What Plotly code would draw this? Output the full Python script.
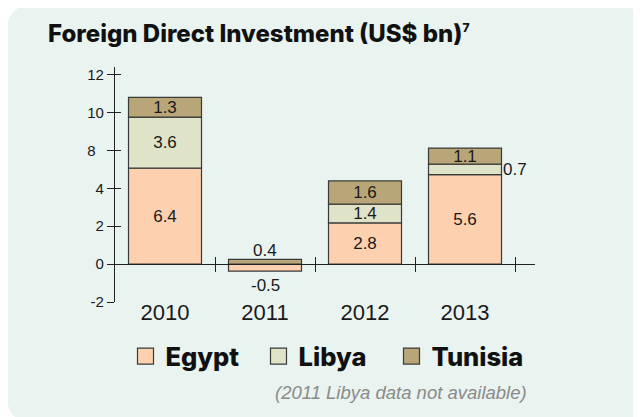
import plotly.graph_objects as go

# Values as printed on the chart, and bar heights as drawn on its y axis
years = ["2010", "2011", "2012", "2013"]
egypt_labels = ["6.4", "-0.5", "2.8", "5.6"]
libya_labels = ["3.6", "", "1.4", "0.7"]
tunisia_labels = ["1.3", "0.4", "1.6", "1.1"]
egypt_h = [5.06, -0.37, 2.17, 4.72]
libya_h = [2.70, None, 0.99, 0.55]
tunisia_h = [1.04, 0.25, 1.23, 0.85]
y_ticks = [-2, 0, 2, 4, 6, 8, 10]
y_tick_text = ["-2", "0", "2", "4", "8\u00a0\u00a0", "10", "12"]
x_dividers = [0.5, 1.5, 2.5, 3.5]

colors = {"Egypt": "#fdd0b0", "Libya": "#dfe3c8", "Tunisia": "#b8a678"}
OUTLINE = "#3a3a3a"
FONT = "Liberation Sans"
HEAVY = "Inter"

# the page body adds an 8px margin, so the figure is 8px smaller than the window
W, H = 633, 409
L, T = 107, 59
PW, PH = 420, 235
R, B = W - L - PW, H - T - PH


def px(x):
    return (x - L) / PW


def py(y):
    return (T + PH - y) / PH


def rounded_rect(x0, y0, x1, y1, r):
    return (
        f"M{px(x0 + r)},{py(y0)} L{px(x1 - r)},{py(y0)} Q{px(x1)},{py(y0)} {px(x1)},{py(y0 + r)} "
        f"L{px(x1)},{py(y1 - r)} Q{px(x1)},{py(y1)} {px(x1 - r)},{py(y1)} "
        f"L{px(x0 + r)},{py(y1)} Q{px(x0)},{py(y1)} {px(x0)},{py(y1 - r)} "
        f"L{px(x0)},{py(y0 + r)} Q{px(x0)},{py(y0)} {px(x0 + r)},{py(y0)} Z"
    )


fig = go.Figure()

series = [
    ("Egypt", egypt_h, egypt_labels),
    ("Libya", libya_h, libya_labels),
    ("Tunisia", tunisia_h, tunisia_labels),
]
# small segments get their labels as annotations instead
hidden = {("Egypt", 1), ("Tunisia", 1), ("Libya", 3)}

for name, h, labels in series:
    pos = ["none" if (name, i) in hidden or not labels[i] else "inside" for i in range(len(years))]
    fig.add_trace(go.Bar(
        x=years, y=h, name=name, text=labels, textposition=pos,
        insidetextanchor="middle",
        textfont=dict(size=17, color="#1a1a1a", family=FONT),
        marker=dict(color=colors[name], line=dict(color=OUTLINE, width=1.2)),
        showlegend=False,
    ))
    # legend proxy with a bigger square swatch
    fig.add_trace(go.Scatter(
        x=[None], y=[None], mode="markers", name=name,
        marker=dict(symbol="square", size=16, color=colors[name], line=dict(color=OUTLINE, width=1.2)),
    ))

# helper traces so the overlay axes get drawn
fig.add_trace(go.Scatter(x=[None], y=[None], xaxis="x2", yaxis="y2", showlegend=False, hoverinfo="skip"))
fig.add_trace(go.Scatter(x=[None], y=[None], xaxis="x3", yaxis="y2", showlegend=False, hoverinfo="skip"))

lab_font = dict(size=17, color="#1a1a1a", family=FONT)
fig.add_annotation(x=1, y=tunisia_h[1], text=tunisia_labels[1], showarrow=False,
                   yanchor="bottom", yshift=-3, font=lab_font)
fig.add_annotation(x=1, y=egypt_h[1], text=egypt_labels[1], showarrow=False,
                   yanchor="top", yshift=-3, font=lab_font)
fig.add_annotation(x=3, y=egypt_h[3] + libya_h[3] / 2, text=libya_labels[3], showarrow=False,
                   xanchor="left", xshift=36, font=lab_font)
fig.add_annotation(x=0.985, y=-0.385, xref="paper", yref="paper", xanchor="right", yanchor="middle",
                   text="<i>(2011 Libya data not available)</i>", showarrow=False,
                   font=dict(size=18.5, color="#8a8a8a", family=FONT))

fig.add_shape(type="path", path=rounded_rect(-1, -3, 634, 414, 26), xref="paper", yref="paper",
              fillcolor="#e9f3f0", line_width=0, layer="below")

x_range = [-0.5, 3.7]
y_range = [-2, 10.4]
zero_pos = (0 - y_range[0]) / (y_range[1] - y_range[0])

fig.update_layout(
    width=W, height=H,
    margin=dict(l=L, r=R, t=T, b=B),
    barmode="relative",
    bargap=0.27,
    paper_bgcolor="white",
    plot_bgcolor="rgba(0,0,0,0)",
    font=dict(family=FONT, color="#1a1a1a"),
    uniformtext=dict(minsize=17, mode="show"),
    title=dict(
        text="Foreign Direct Investment (US$ bn)<sup><span style='font-size:12px'>7</span></sup>",
        x=40 / W, xref="container", xanchor="left",
        y=1 - 26 / H, yref="container", yanchor="middle",
        font=dict(size=24, color="#111", family=HEAVY, weight=800),
    ),
    xaxis=dict(type="category", range=x_range, showline=False, ticks="", showgrid=False,
               zeroline=False, ticklabelstandoff=-5, tickfont=dict(size=22, color="#1a1a1a")),
    xaxis2=dict(overlaying="x", anchor="free", position=zero_pos, range=x_range,
                tickvals=x_dividers, ticks="outside", ticklen=7, tickcolor="#222",
                showline=True, linecolor="#222", linewidth=1.2,
                showticklabels=False, showgrid=False, zeroline=False),
    xaxis3=dict(overlaying="x", anchor="free", position=zero_pos, range=x_range,
                tickvals=x_dividers, ticks="inside", ticklen=7, tickcolor="#222",
                showline=False, showticklabels=False, showgrid=False, zeroline=False),
    yaxis=dict(range=y_range, tickvals=y_ticks, ticktext=y_tick_text,
               ticks="outside", ticklen=7, tickcolor="#222", showline=True,
               linecolor="#222", linewidth=1.2, showgrid=False, zeroline=False,
               tickfont=dict(size=15, color="#1a1a1a")),
    yaxis2=dict(overlaying="y", anchor="x", side="left", range=y_range, tickvals=y_ticks,
                ticks="inside", ticklen=6, tickcolor="#222", showline=False,
                showticklabels=False, showgrid=False, zeroline=False),
    legend=dict(orientation="h", x=0.5, xanchor="center", y=-0.232, yanchor="middle",
                font=dict(size=25.5, weight=800, color="#111", family=HEAVY),
                bgcolor="rgba(0,0,0,0)", itemclick=False, entrywidth=88),
    showlegend=True,
)

fig.write_html("out.html")
